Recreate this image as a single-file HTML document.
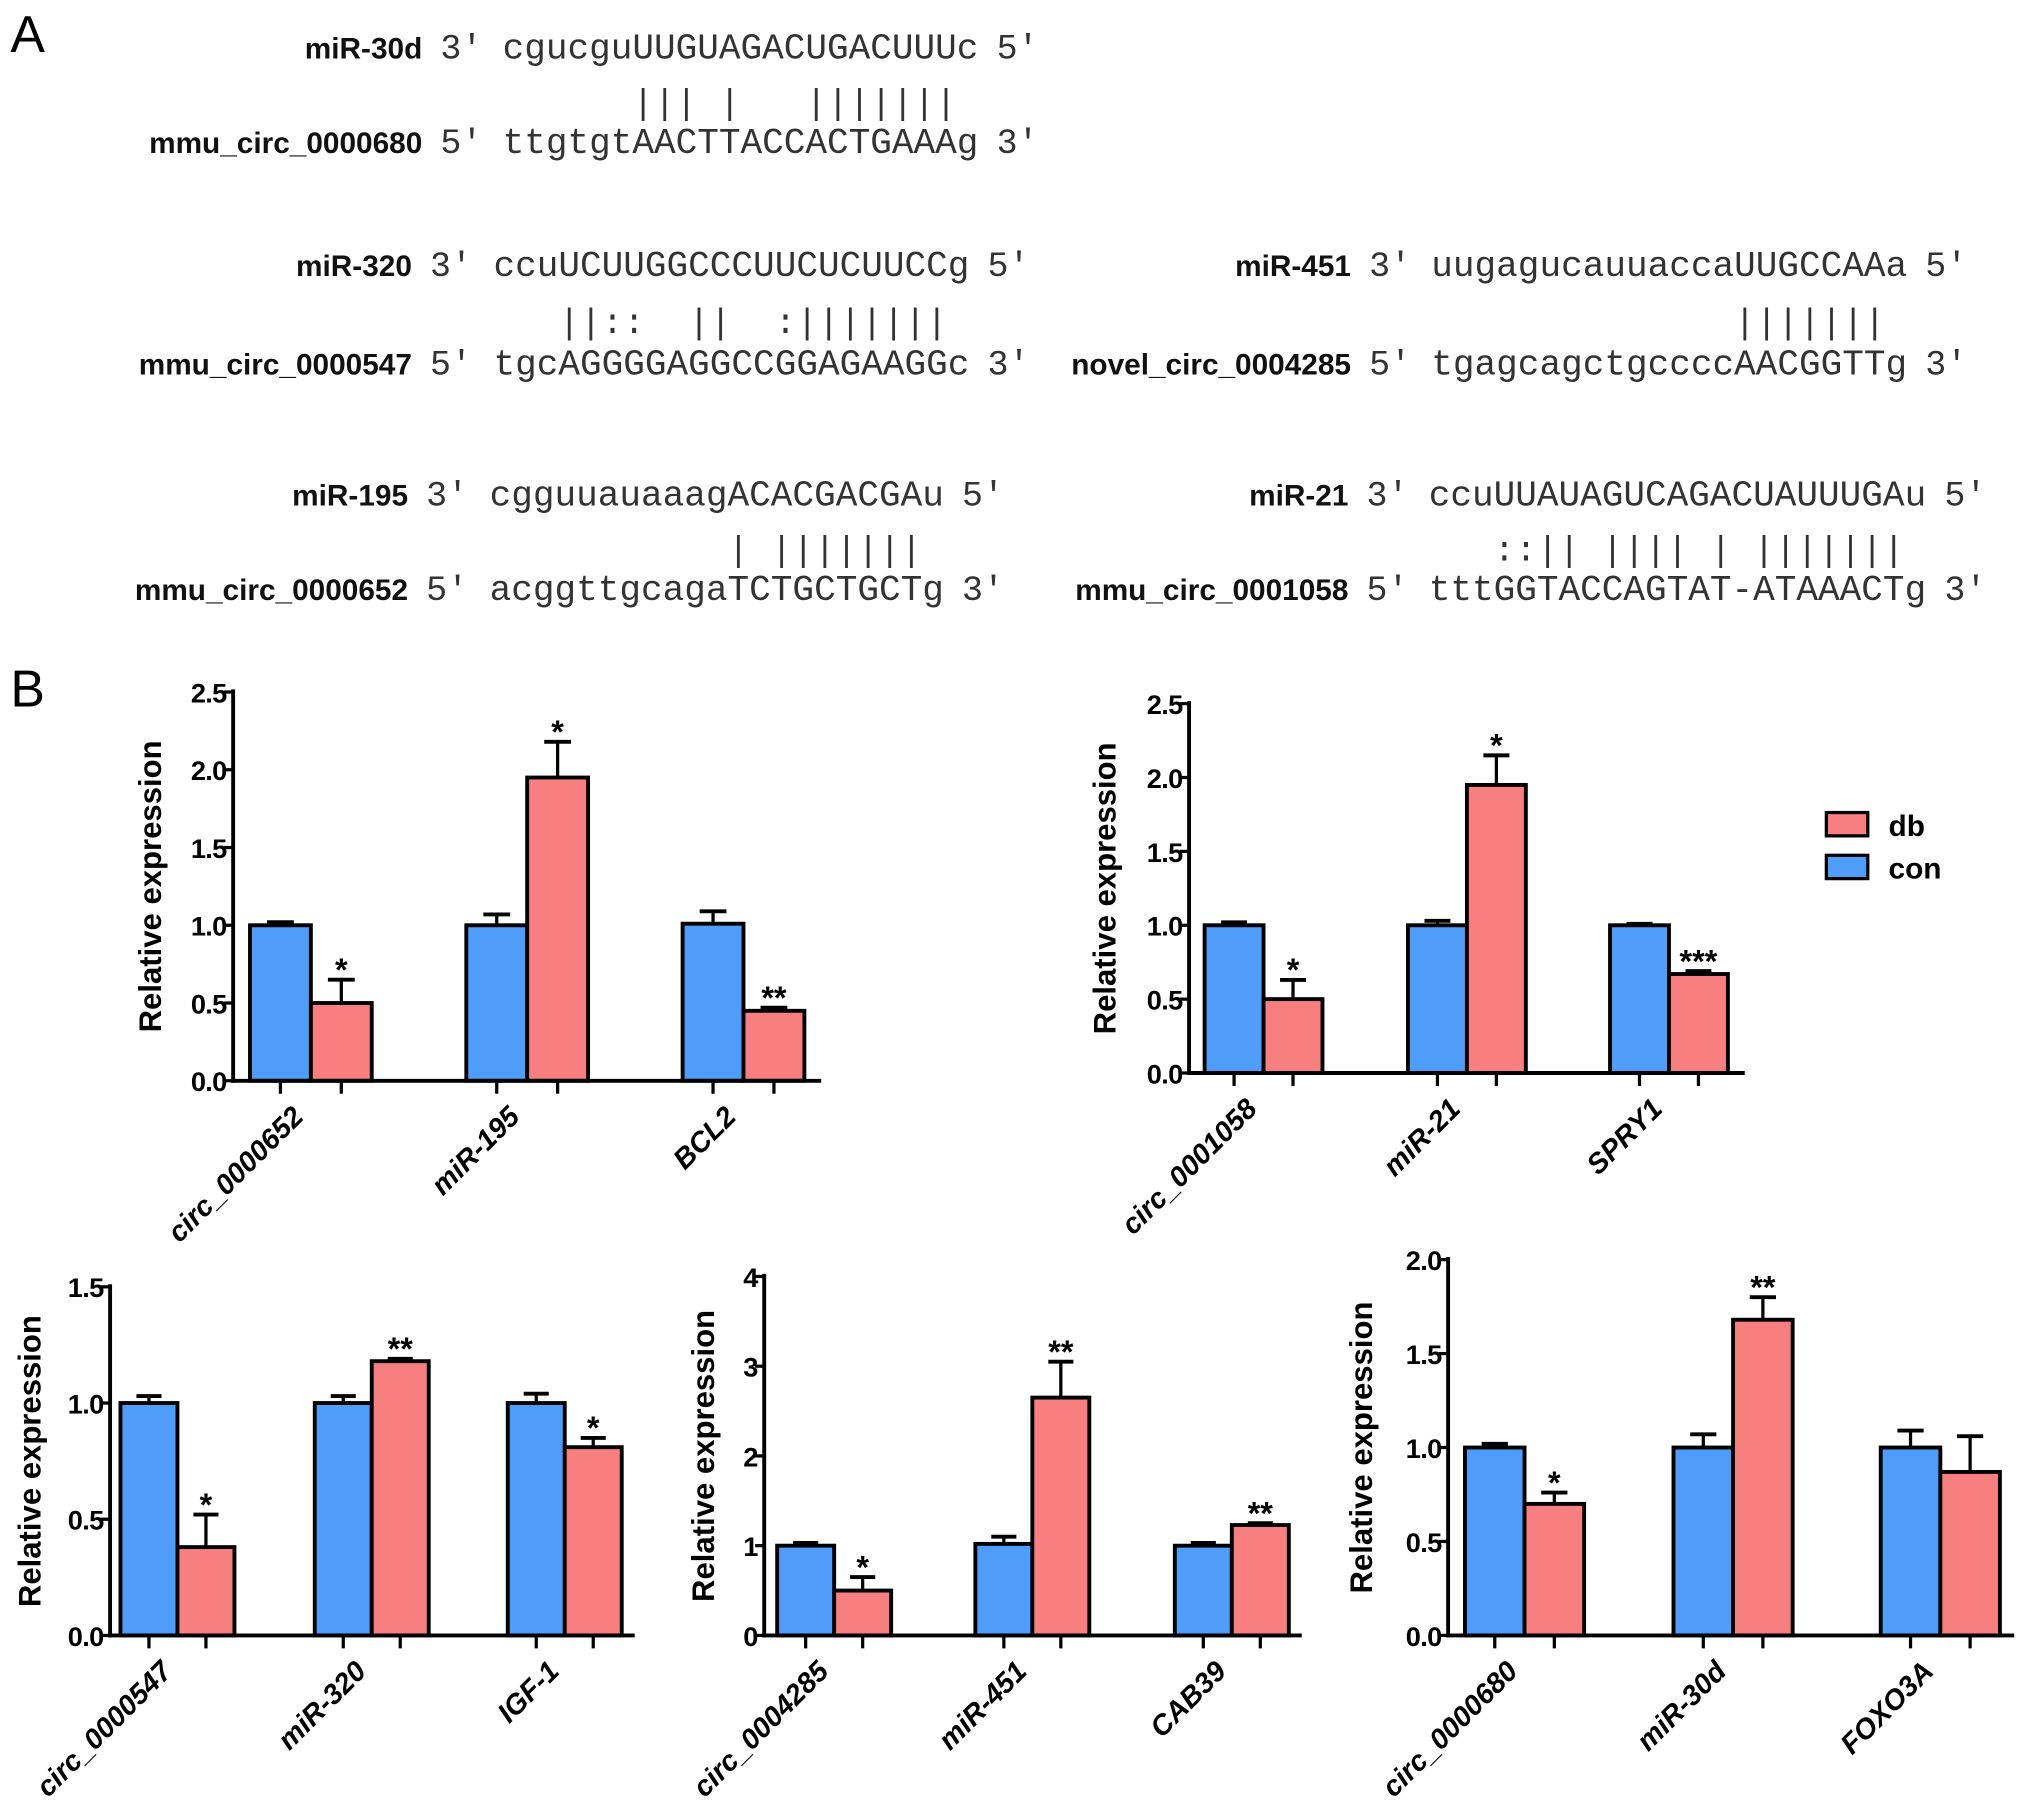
<!DOCTYPE html>
<html><head><meta charset="utf-8">
<style>
html,body{margin:0;padding:0;background:#fff;}
svg{display:block;}
text{font-family:"Liberation Sans",sans-serif;}
.mono{font-family:"Liberation Mono",monospace;fill:#333;}
.lab{font-weight:bold;fill:#111;}
</style></head>
<body>
<svg id="fig" width="2031" height="1800" viewBox="0 0 1568 1389" preserveAspectRatio="none" xmlns="http://www.w3.org/2000/svg">
<text x="8" y="40" font-size="40">A</text>
<text x="8" y="545" font-size="40">B</text>
<g id="align"></g>
<g id="charts"></g>
<g>
<rect x="1410" y="627" width="32" height="18" fill="#f77f7f" stroke="#000" stroke-width="2.5"/>
<text x="1458" y="645" font-size="23" font-weight="bold">db</text>
<rect x="1410" y="660" width="32" height="18" fill="#4f9cf9" stroke="#000" stroke-width="2.5"/>
<text x="1458" y="678" font-size="23" font-weight="bold">con</text>
</g>
</svg>
<script>
const NS="http://www.w3.org/2000/svg";
function mk(tag,attrs,parent,txt){const e=document.createElementNS(NS,tag);for(const k in attrs)e.setAttribute(k,attrs[k]);if(txt!==undefined)e.textContent=txt;parent.appendChild(e);return e;}

// ---------- Part A alignments ----------
const alignNames=[["miR-30d","mmu_circ_0000680"],["miR-320","mmu_circ_0000547"],["miR-451","novel_circ_0004285"],["miR-195","mmu_circ_0000652"],["miR-21","mmu_circ_0001058"]];
const alignTop=["cgucguUUGUAGACUGACUUUc","ccuUCUUGGCCCUUCUCUUCCg","uugagucauuaccaUUGCCAAa","cgguuauaaagACACGACGAu","ccuUUAUAGUCAGACUAUUUGAu"];
const alignBot=["ttgtgtAACTTACCACTGAAAg","tgcAGGGGAGGCCGGAGAAGGc","tgagcagctgccccAACGGTTg","acggttgcagaTCTGCTGCTg","tttGGTACCAGTAT-ATAAACTg"];
const alignPair=["      ||| |   |||||||","   ||::  ||  :|||||||","              |||||||","           | |||||||","   ::|| |||| | |||||||"];
const alignPos=[[326,388,45,118],[318,381,213,289],[1043,1105,213,289],[315,378,390,463],[1041,1103,390,463]];
const cw=16.7;
const ga=document.getElementById('align');
alignNames.forEach((nm,i)=>{
  const [lx,sx,y1,y2]=alignPos[i];
  const g=mk('g',{},ga);
  
  
  let t=mk('text',{x:lx,y:y1,'text-anchor':'end','font-size':23,class:'lab'},g,nm[0]);
  
  t=mk('text',{x:lx,y:y2,'text-anchor':'end','font-size':23,class:'lab'},g,nm[1]);
  
  t=mk('text',{x:lx+14,y:y1,'font-size':27,class:'mono'},g,"3'");
  
  t=mk('text',{x:lx+14,y:y2,'font-size':27,class:'mono'},g,"5'");
  
  const n1=alignTop[i].length,n2=alignBot[i].length;
  t=mk('text',{x:sx,y:y1,'font-size':28,class:'mono',textLength:n1*cw,lengthAdjust:'spacingAndGlyphs'},g,alignTop[i]);
  
  t=mk('text',{x:sx,y:y2,'font-size':28,class:'mono',textLength:n2*cw,lengthAdjust:'spacingAndGlyphs'},g,alignBot[i]);
  
  t=mk('text',{x:sx+n1*cw+14,y:y1,'font-size':27,class:'mono'},g,"5'");
  
  t=mk('text',{x:sx+n2*cw+14,y:y2,'font-size':27,class:'mono'},g,"3'");
  
  const py=(y1+y2)/2+6;
  [...alignPair[i]].forEach((c,j)=>{
    if(c===' ')return;
    const e=mk('text',{x:sx+(j+0.5)*cw,y:py,'text-anchor':'middle','font-size':27,class:'mono'},g,c);
    
    
  });
});

// ---------- Part B charts ----------
const c1Cats=["circ_0000652","miR-195","BCL2"];
const c1Con=[1.0,1.0,1.01], c1ConErr=[0.02,0.07,0.08];
const c1Db=[0.5,1.95,0.45], c1DbErr=[0.15,0.23,0.02];
const c1Sig=["*","*","**"];
const c1Ticks=[0,0.5,1.0,1.5,2.0,2.5];

const c2Cats=["circ_0001058","miR-21","SPRY1"];
const c2Con=[1.0,1.0,1.0], c2ConErr=[0.02,0.03,0.01];
const c2Db=[0.5,1.95,0.67], c2DbErr=[0.13,0.2,0.02];
const c2Sig=["*","*","***"];
const c2Ticks=[0,0.5,1.0,1.5,2.0,2.5];

const c3Cats=["circ_0000547","miR-320","IGF-1"];
const c3Con=[1.0,1.0,1.0], c3ConErr=[0.03,0.03,0.04];
const c3Db=[0.38,1.18,0.81], c3DbErr=[0.14,0.01,0.04];
const c3Sig=["*","**","*"];
const c3Ticks=[0,0.5,1.0,1.5];

const c4Cats=["circ_0004285","miR-451","CAB39"];
const c4Con=[1.0,1.02,1.0], c4ConErr=[0.03,0.08,0.03];
const c4Db=[0.5,2.65,1.23], c4DbErr=[0.15,0.4,0.02];
const c4Sig=["*","**","**"];
const c4Ticks=[0,1,2,3,4];

const c5Cats=["circ_0000680","miR-30d","FOXO3A"];
const c5Con=[1.0,1.0,1.0], c5ConErr=[0.02,0.07,0.09];
const c5Db=[0.7,1.68,0.87], c5DbErr=[0.06,0.12,0.19];
const c5Sig=["*","**",""];
const c5Ticks=[0,0.5,1.0,1.5,2.0];

const layouts=[
 {ax:180,y0:834,yTop:534,xEnd:634,groups:[193,360,527],bw:47,ylx:118,name:'chart-circ-0000652'},
 {ax:918,y0:828,yTop:543,xEnd:1347,groups:[930,1087,1243],bw:45.5,ylx:855,name:'chart-circ-0001058'},
 {ax:85,y0:1262,yTop:993,xEnd:490,groups:[93,243,392],bw:44,ylx:25,name:'chart-circ-0000547'},
 {ax:590,y0:1262,yTop:985,xEnd:1005,groups:[600,753,907],bw:44,ylx:545,name:'chart-circ-0004285'},
 {ax:1118,y0:1262,yTop:972,xEnd:1555,groups:[1131,1292,1452],bw:46,ylx:1053,name:'chart-circ-0000680'}
];
const datasets=[
 [c1Cats,c1Con,c1ConErr,c1Db,c1DbErr,c1Sig,c1Ticks],
 [c2Cats,c2Con,c2ConErr,c2Db,c2DbErr,c2Sig,c2Ticks],
 [c3Cats,c3Con,c3ConErr,c3Db,c3DbErr,c3Sig,c3Ticks],
 [c4Cats,c4Con,c4ConErr,c4Db,c4DbErr,c4Sig,c4Ticks],
 [c5Cats,c5Con,c5ConErr,c5Db,c5DbErr,c5Sig,c5Ticks]
];
const gc=document.getElementById('charts');
datasets.forEach((d,ci)=>{
  const L=layouts[ci];
  const [cats,con,conE,db,dbE,sig,ticks]=d;
  const ymax=ticks[ticks.length-1];
  const Y=v=>L.y0-(v/ymax)*(L.y0-L.yTop);
  const g=mk('g',{},gc);
  
  
  const cy=(L.y0+L.yTop)/2;
  let t=mk('text',{x:L.ylx,y:cy,transform:`rotate(-90 ${L.ylx} ${cy})`,'text-anchor':'middle','dominant-baseline':'middle','font-size':24,'font-weight':'bold'},g,'Relative expression');
  
  cats.forEach((c,i)=>{
    const x0=L.groups[i];
    [[con[i],conE[i],'#4f9cf9','con'],[db[i],dbE[i],'#f77f7f','db']].forEach((b,k)=>{
      const bx=x0+k*L.bw, top=Y(b[0]), et=Y(b[0]+b[1]), cx=bx+L.bw/2;
      const eb=mk('line',{x1:cx,x2:cx,y1:top,y2:et,stroke:'#000','stroke-width':2.5},g);
      
      const cap=mk('line',{x1:cx-L.bw*0.22,x2:cx+L.bw*0.22,y1:et,y2:et,stroke:'#000','stroke-width':3},g);
      
      const r=mk('rect',{x:bx,y:top,width:L.bw,height:L.y0-top,fill:b[2],stroke:'#000','stroke-width':3},g);
      
      const tk=mk('line',{x1:cx,x2:cx,y1:L.y0,y2:L.y0+10,stroke:'#000','stroke-width':2.5},g);
      
      if(k===1&&sig[i]){
        const s=mk('text',{x:cx,y:et+1,'text-anchor':'middle','font-size':25,'font-weight':'bold'},g,sig[i]);
        
      }
    });
    const lx=x0+L.bw/2+8, ly=L.y0+18;
    const xl=mk('text',{x:lx,y:ly,transform:`rotate(-45 ${lx} ${ly})`,'text-anchor':'end','dominant-baseline':'hanging','font-size':22,'font-weight':'bold','font-style':'italic'},g,c);
    
  });
  let a=mk('line',{x1:L.ax,x2:L.ax,y1:L.yTop-2,y2:L.y0+1.5,stroke:'#000','stroke-width':3},g);
  
  a=mk('line',{x1:L.ax-1.5,x2:L.xEnd,y1:L.y0,y2:L.y0,stroke:'#000','stroke-width':3},g);
  
  ticks.forEach(v=>{
    const yy=Y(v);
    const tl=mk('line',{x1:L.ax-7,x2:L.ax,y1:yy,y2:yy,stroke:'#000','stroke-width':2.5},g);
    
    const tt=mk('text',{x:L.ax-5,y:yy+8,'text-anchor':'end','font-size':21,'font-weight':'bold','letter-spacing':'-0.5'},g,ymax>=4?String(v):v.toFixed(1));
    
  });
});
</script>
</body></html>
